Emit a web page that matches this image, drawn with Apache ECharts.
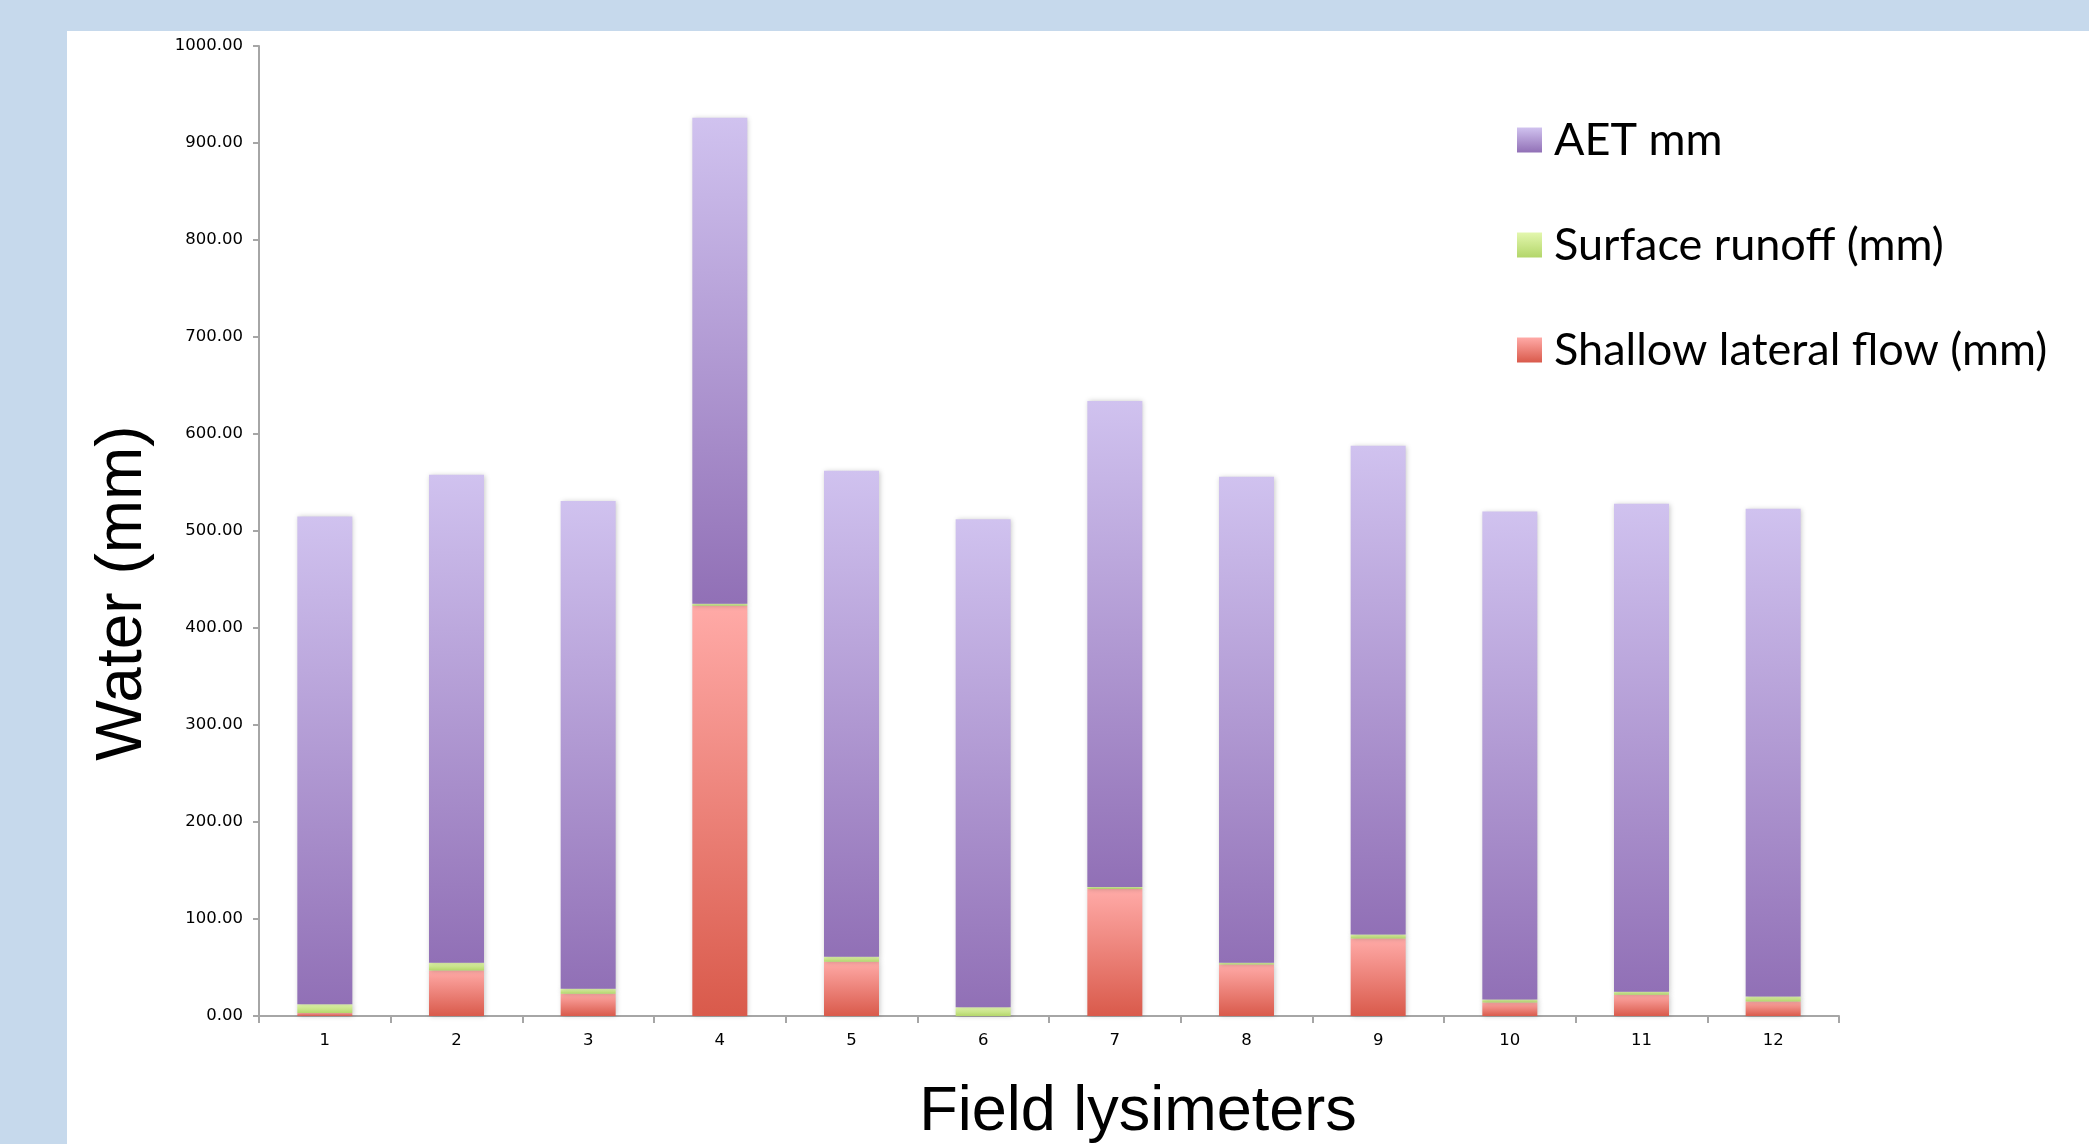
<!DOCTYPE html>
<html>
<head>
<meta charset="utf-8">
<script src="https://cdn.jsdelivr.net/npm/echarts@6/dist/echarts.min.js"></script>
<style>
html,body{margin:0;padding:0;background:#C6D9EC;}
#main{width:2089px;height:1144px;}
</style>
</head>
<body>
<div id="main"></div>
<script>
var categories = ['1','2','3','4','5','6','7','8','9','10','11','12'];
var shallowLateralFlow = [3, 47, 23, 423, 56, 0, 131, 53, 80, 14, 22, 15];
var surfaceRunoff = [9, 8, 5, 2, 5, 9, 2, 2, 4, 3, 3, 5];
var aet = [503, 503, 503, 501, 501, 503, 501, 501, 504, 503, 503, 503];
var yTicks = {min: 0, max: 1000, interval: 100};

function grad(top, bottom) {
  return new echarts.graphic.LinearGradient(0, 0, 0, 1, [
    {offset: 0, color: top}, {offset: 1, color: bottom}
  ]);
}
var shadow = {shadowColor: 'rgba(0,0,0,0.22)', shadowBlur: 5, shadowOffsetX: 1, shadowOffsetY: 0};

var chart = echarts.init(document.getElementById('main'), null, {renderer: 'canvas'});
var option = {
  backgroundColor: 'transparent',
  animation: false,
  graphic: [
    {type: 'rect', left: 67, top: 31, z: -10, shape: {width: 2089 - 67, height: 1144 - 31}, style: {fill: '#ffffff'}},
    {type: 'text', z: 10, x: 123, y: 593, rotation: Math.PI / 2,
     style: {text: 'Water (mm)', x: 0, y: 0, fill: '#000', font: '64px "Liberation Sans", Arial, sans-serif', textAlign: 'center', textVerticalAlign: 'middle'}},
    {type: 'text', z: 10, x: 1138, y: 1113,
     style: {text: 'Field lysimeters', x: 0, y: 0, fill: '#000', font: '63px "Liberation Sans", Arial, sans-serif', textAlign: 'center', textVerticalAlign: 'middle'}}
  ],
  grid: {left: 259, right: 250, top: 46, bottom: 128, containLabel: false},
  legend: {
    orient: 'vertical',
    left: 1512, top: 110,
    itemWidth: 25, itemHeight: 25, itemGap: 55,
    icon: 'rect',
    data: ['AET mm', 'Surface runoff (mm)', 'Shallow lateral flow (mm)'],
    textStyle: {fontFamily: 'Lato, "Open Sans", sans-serif', fontSize: 45, color: '#000', lineHeight: 50, padding: [0, 0, 0, 7]}
  },
  xAxis: {
    type: 'category',
    data: categories,
    axisLine: {lineStyle: {color: '#A6A6A6', width: 2}},
    axisTick: {show: true, length: 7, lineStyle: {color: '#A6A6A6', width: 2}},
    axisLabel: {fontFamily: '"DejaVu Sans", Verdana, sans-serif', fontSize: 16.5, color: '#000', margin: 16}
  },
  yAxis: {
    type: 'value',
    min: yTicks.min, max: yTicks.max, interval: yTicks.interval,
    axisLine: {show: true, lineStyle: {color: '#A6A6A6', width: 2}},
    axisTick: {show: true, length: 6, lineStyle: {color: '#A6A6A6', width: 2}},
    splitLine: {show: false},
    axisLabel: {fontFamily: '"DejaVu Sans", Verdana, sans-serif', fontSize: 16.5, color: '#000', margin: 16,
      formatter: function (v) { return v.toFixed(2); }}
  },
  series: [
    {name: 'Shallow lateral flow (mm)', type: 'bar', stack: 'w', barWidth: 55, data: shallowLateralFlow,
     itemStyle: Object.assign({color: grad('#FFAAA7', '#D95A4B')}, shadow)},
    {name: 'Surface runoff (mm)', type: 'bar', stack: 'w', barWidth: 55, data: surfaceRunoff,
     itemStyle: Object.assign({color: grad('#E3F7AE', '#B3D66A')}, shadow)},
    {name: 'AET mm', type: 'bar', stack: 'w', barWidth: 55, data: aet,
     itemStyle: Object.assign({color: grad('#D0C2EF', '#9170B6')}, shadow)}
  ]
};
chart.setOption(option);
</script>
</body>
</html>
